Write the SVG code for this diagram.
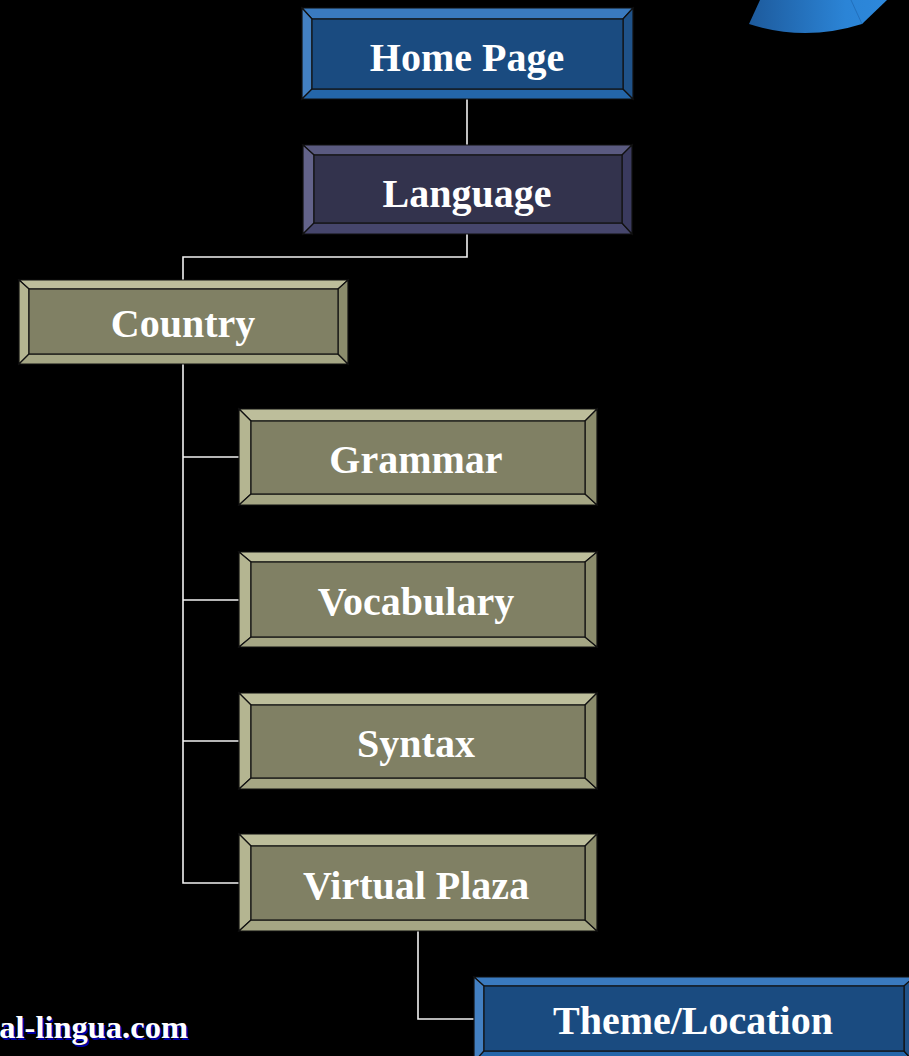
<svg xmlns="http://www.w3.org/2000/svg" width="909" height="1056" viewBox="0 0 909 1056">
<defs>
<linearGradient id="swoosh" x1="0" y1="0" x2="1" y2="0">
<stop offset="0" stop-color="#1d5a9c"/>
<stop offset="0.7" stop-color="#2b84d6"/>
<stop offset="1" stop-color="#2d88dc"/>
</linearGradient>
</defs>
<style>
.bv polygon, .bv rect { stroke:#111; stroke-width:1.2; stroke-linejoin:miter; }
.blue .t{fill:#3a7abf}.blue .l{fill:#4380c2}.blue .b{fill:#2466a9}.blue .r{fill:#1f5289}.blue .c{fill:#1a4b80}
.navy .t{fill:#5a5a80}.navy .l{fill:#63638a}.navy .b{fill:#46466c}.navy .r{fill:#3a3a5e}.navy .c{fill:#33334d}
.olive .t{fill:#bdbe9b}.olive .l{fill:#b4b591}.olive .b{fill:#a5a684}.olive .r{fill:#8b8c6c}.olive .c{fill:#808064}
.lbl{font-family:"Liberation Serif","Times New Roman",serif;font-weight:bold;font-size:40px;fill:#ffffff;text-anchor:middle;}
.con{fill:none;stroke:#f2f2f2;stroke-width:1.6;}
.ft{font-family:"Liberation Serif","Times New Roman",serif;font-weight:bold;font-size:32.5px;text-anchor:end;}
</style>
<rect x="0" y="0" width="909" height="1056" fill="#000"/>
<g id="swoosh-shape">
<path d="M760,0 L749,24 Q805,42 862,24 L887,0 Z" fill="url(#swoosh)"/>
<line x1="851" y1="0" x2="862" y2="24" stroke="#1f6bb5" stroke-width="0.8"/>
</g>
<g id="connectors">
<path class="con" d="M467,99 V145"/>
<path class="con" d="M467,234 V257 H183 V280"/>
<path class="con" d="M183,364 V883 H239"/>
<path class="con" d="M183,457 H239"/>
<path class="con" d="M183,600 H239"/>
<path class="con" d="M183,741 H239"/>
<path class="con" d="M418,931 V1019 H474"/>
</g>
<g id="node-home" class="bv blue">
<polygon class="t" points="302,8 633,8 623,19 312,19"/>
<polygon class="l" points="302,8 312,19 312,89 302,99"/>
<polygon class="b" points="302,99 312,89 623,89 633,99"/>
<polygon class="r" points="633,8 633,99 623,89 623,19"/>
<rect class="c" x="312" y="19" width="311" height="70"/>
<text class="lbl" x="467" y="71">Home Page</text>
</g>
<g id="node-language" class="bv navy">
<polygon class="t" points="303,145 632,145 622,155 314,155"/>
<polygon class="l" points="303,145 314,155 314,223 303,234"/>
<polygon class="b" points="303,234 314,223 622,223 632,234"/>
<polygon class="r" points="632,145 632,234 622,223 622,155"/>
<rect class="c" x="314" y="155" width="308" height="68"/>
<text class="lbl" x="467" y="207">Language</text>
</g>
<g id="node-country" class="bv olive">
<polygon class="t" points="19,280 348,280 338,289 29,289"/>
<polygon class="l" points="19,280 29,289 29,354 19,364"/>
<polygon class="b" points="19,364 29,354 338,354 348,364"/>
<polygon class="r" points="348,280 348,364 338,354 338,289"/>
<rect class="c" x="29" y="289" width="309" height="65"/>
<text class="lbl" x="183" y="337">Country</text>
</g>
<g id="node-grammar" class="bv olive">
<polygon class="t" points="239,409 597,409 585,421 251,421"/>
<polygon class="l" points="239,409 251,421 251,494 239,505"/>
<polygon class="b" points="239,505 251,494 585,494 597,505"/>
<polygon class="r" points="597,409 597,505 585,494 585,421"/>
<rect class="c" x="251" y="421" width="334" height="73"/>
<text class="lbl" x="416" y="473">Grammar</text>
</g>
<g id="node-vocabulary" class="bv olive">
<polygon class="t" points="239,552 597,552 585,562 251,562"/>
<polygon class="l" points="239,552 251,562 251,637 239,647"/>
<polygon class="b" points="239,647 251,637 585,637 597,647"/>
<polygon class="r" points="597,552 597,647 585,637 585,562"/>
<rect class="c" x="251" y="562" width="334" height="75"/>
<text class="lbl" x="416" y="615">Vocabulary</text>
</g>
<g id="node-syntax" class="bv olive">
<polygon class="t" points="239,693 597,693 585,705 251,705"/>
<polygon class="l" points="239,693 251,705 251,778 239,789"/>
<polygon class="b" points="239,789 251,778 585,778 597,789"/>
<polygon class="r" points="597,693 597,789 585,778 585,705"/>
<rect class="c" x="251" y="705" width="334" height="73"/>
<text class="lbl" x="416" y="757">Syntax</text>
</g>
<g id="node-virtual-plaza" class="bv olive">
<polygon class="t" points="239,834 597,834 585,846 251,846"/>
<polygon class="l" points="239,834 251,846 251,920 239,931"/>
<polygon class="b" points="239,931 251,920 585,920 597,931"/>
<polygon class="r" points="597,834 597,931 585,920 585,846"/>
<rect class="c" x="251" y="846" width="334" height="74"/>
<text class="lbl" x="416" y="899">Virtual Plaza</text>
</g>
<g id="node-theme" class="bv blue">
<polygon class="t" points="474,977 914,977 904,986 484,986"/>
<polygon class="l" points="474,977 484,986 484,1051 474,1062"/>
<polygon class="b" points="474,1062 484,1051 904,1051 914,1062"/>
<polygon class="r" points="914,977 914,1062 904,1051 904,986"/>
<rect class="c" x="484" y="986" width="420" height="65"/>
<text class="lbl" x="693" y="1034">Theme/Location</text>
</g>
<g id="footer">
<text class="ft" x="190" y="1040" fill="#0000a8">al-lingua.com</text>
<text class="ft" x="188" y="1038" fill="#ffffff">al-lingua.com</text>
</g>
</svg>
